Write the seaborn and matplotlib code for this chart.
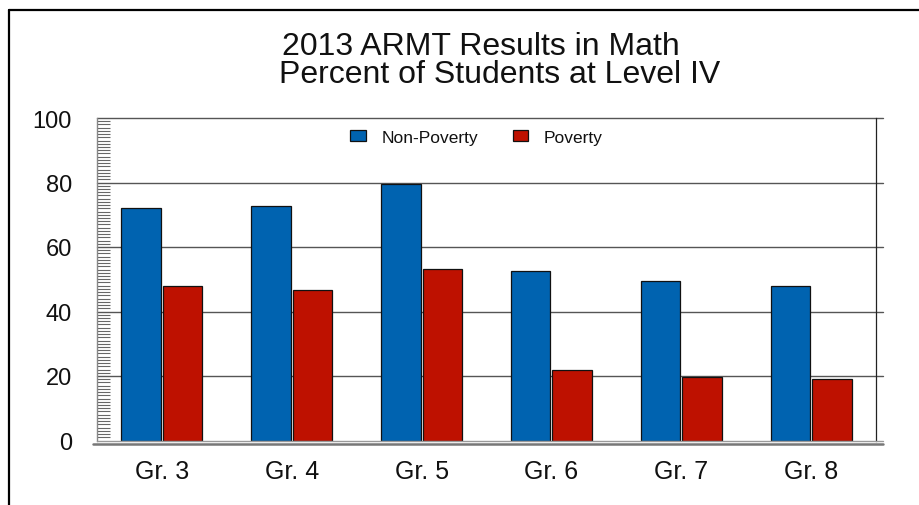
import matplotlib
matplotlib.use("Agg")
import matplotlib.pyplot as plt
import matplotlib.transforms as mtransforms
from matplotlib.lines import Line2D
from matplotlib.ticker import MultipleLocator
import seaborn as sns
import pandas as pd

grades = ["Gr. 3", "Gr. 4", "Gr. 5", "Gr. 6", "Gr. 7", "Gr. 8"]
non_poverty = [72.1, 72.8, 79.5, 52.5, 49.4, 47.9]
poverty = [48.0, 46.7, 53.3, 21.8, 19.8, 19.0]
series_names = ["Non-Poverty", "Poverty"]
yticks = [0, 20, 40, 60, 80, 100]
title_line1 = "2013 ARMT Results in Math"
title_line2 = "Percent of Students at Level IV"

df = pd.DataFrame({
    "Grade": grades * 2,
    "Series": [series_names[0]] * len(grades) + [series_names[1]] * len(grades),
    "Percent": non_poverty + poverty,
})

sns.set_theme(style="white")
plt.rcParams["font.family"] = ["Liberation Sans", "DejaVu Sans"]

W, H = 919, 506
fig = plt.figure(figsize=(W / 100, H / 100), dpi=100)
ax_left, ax_right, ax_top, ax_bottom = 97, 876, 119, 441.5
ax = fig.add_axes([ax_left / W, 1 - ax_bottom / H,
                   (ax_right - ax_left) / W, (ax_bottom - ax_top) / H])

palette = {"Non-Poverty": "#0063B0", "Poverty": "#BE1100"}
sns.barplot(data=df, x="Grade", y="Percent", hue="Series", order=grades,
            hue_order=series_names, palette=palette, width=0.64, gap=0.05,
            edgecolor="#111111", linewidth=0.9, saturation=1, ax=ax, zorder=3)

ax.set_xlim(-0.5, len(grades) - 0.5)
ax.set_ylim(0, 100)
ax.set_xlabel("")
ax.set_ylabel("")
ax.set_yticks(yticks)
ax.set_yticklabels([str(v) for v in yticks], fontsize=17, color="#111111")
ax.yaxis.set_minor_locator(MultipleLocator(1))
ax.tick_params(axis="y", which="major", direction="in", length=9, width=1,
               color="#666666", pad=18)
ax.tick_params(axis="y", which="minor", direction="in", length=9, width=0.8,
               color="#666666", left=True)
ax.tick_params(axis="x", length=0, pad=13, labelsize=18, labelcolor="#111111")

# grid lines extending slightly past the right frame
ext = (883 - ax_left) / (ax_right - ax_left)
for v in yticks[1:]:
    ax.axhline(v, xmin=0, xmax=ext, color="#555555", lw=1.0, clip_on=False, zorder=1)

# baseline: double grey line
ax.axhline(0, xmin=0, xmax=ext, color="#9a9a9a", lw=1.0, clip_on=False, zorder=4)
off = mtransforms.offset_copy(ax.get_yaxis_transform(), fig=fig, x=0, y=-3.5 * 72 / 100, units="points")
ax.add_line(Line2D([-0.005, ext], [0, 0], transform=off, color="#777777", lw=1.8,
                   clip_on=False, zorder=4))

for s in ["top", "bottom"]:
    ax.spines[s].set_visible(False)
ax.spines["left"].set_color("#888888")
ax.spines["left"].set_linewidth(1.0)
ax.spines["right"].set_color("#222222")
ax.spines["right"].set_linewidth(0.9)

# legend
handles, labels = ax.get_legend_handles_labels()
leg = ax.legend(handles, labels, loc="center", bbox_to_anchor=(0.487, 0.941),
                ncol=2, frameon=False, fontsize=12.5, handlelength=0.9,
                handleheight=0.6, handletextpad=0.9, columnspacing=2.0)
for t in leg.get_texts():
    t.set_color("#111111")

# titles
fig.text(481 / W, 1 - 55 / H, title_line1, ha="center", va="baseline",
         fontsize=23, color="#111111")
fig.text(500 / W, 1 - 83 / H, title_line2, ha="center", va="baseline",
         fontsize=23, color="#111111")

# outer frame lines (top and left)
fig.add_artist(Line2D([8.5 / W, 1.0], [1 - 10.5 / H, 1 - 10.5 / H],
                      transform=fig.transFigure, color="black", lw=1.6))
fig.add_artist(Line2D([8.5 / W, 8.5 / W], [0, 1 - 10.5 / H],
                      transform=fig.transFigure, color="black", lw=1.6))

fig.savefig("out.png", dpi=100, facecolor="white")
